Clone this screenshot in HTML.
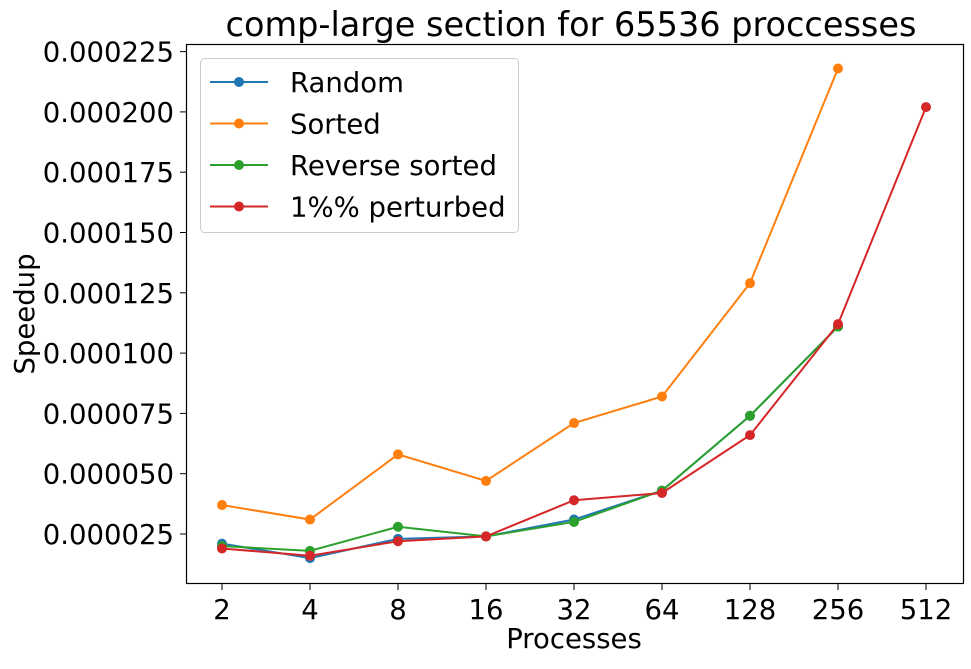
<!DOCTYPE html>
<html><head><meta charset="utf-8"><style>
body{margin:0;background:#fff;}
svg text{font-family:"DejaVu Sans","Liberation Sans",sans-serif;fill:#000;}
</style></head><body>
<svg id="chart" width="971" height="664">
<text x="571" y="36" font-size="33.5" text-anchor="middle">comp-large section for 65536 proccesses</text>
<g id="axes"></g>
<g id="series"></g>
<rect x="186.5" y="44.5" width="777" height="539" fill="none" stroke="#000" stroke-width="1.2"/>
<text x="574" y="648" font-size="27.5" text-anchor="middle">Processes</text>
<text x="0" y="0" font-size="27.5" text-anchor="middle" transform="translate(34,314) rotate(-90)">Speedup</text>
<g id="legend"></g>
</svg>
<script>
const categories=["2","4","8","16","32","64","128","256","512"];
const seriesNames=["Random","Sorted","Reverse sorted","1%% perturbed"];
const colors=["#1f77b4","#ff7f0e","#2ca02c","#d62728"];
const randomVals=[21,15,23,24,31,43,74,111,null];
const sortedVals=[37,31,58,47,71,82,129,218,null];
const reverseVals=[20,18,28,24,30,43,74,111,null];
const perturbedVals=[19,16,22,24,39,42,66,112,202];
const yTicks=[25,50,75,100,125,150,175,200,225];
const yTickLabels=["0.000025","0.000050","0.000075","0.000100","0.000125","0.000150","0.000175","0.000200","0.000225"];
const NS="http://www.w3.org/2000/svg";
function xs(i){return 222+i*88;}
function ys(v){return 534-(v-25)*60.3/25;}
function mk(t,a,p){const e=document.createElementNS(NS,t);for(const k in a)e.setAttribute(k,a[k]);p.appendChild(e);return e;}
const axes=document.getElementById('axes');
categories.forEach((c,i)=>{
  const l=mk('line',{x1:xs(i),x2:xs(i),y1:584,y2:590,stroke:'#000'},axes);
  
  
  const t=mk('text',{x:xs(i),y:619,'font-size':27.5,'text-anchor':'middle'},axes);
  t.textContent=c;
  
  
});
yTicks.forEach((v,i)=>{
  const l=mk('line',{x1:180,x2:186,y1:ys(v),y2:ys(v),stroke:'#000'},axes);
  
  
  const t=mk('text',{x:174,y:ys(v)+10,'font-size':27.5,'text-anchor':'end'},axes);
  t.textContent=yTickLabels[i];
  
  
});
const sg=document.getElementById('series');
[randomVals,sortedVals,reverseVals,perturbedVals].forEach((vals,s)=>{
  const pts=[];vals.forEach((v,i)=>{if(v!==null)pts.push([xs(i),ys(v)]);});
  const pl=mk('polyline',{points:pts.map(p=>p.join(',')).join(' '),fill:'none',stroke:colors[s],'stroke-width':2},sg);
  
  
  pts.forEach(p=>{
    const c=mk('circle',{cx:p[0],cy:p[1],r:5,fill:colors[s]},sg);
    
    
  });
});
const lg=document.getElementById('legend');
const box=mk('rect',{x:200.5,y:58.5,width:318,height:174,rx:4,fill:'#fff','fill-opacity':0.8,stroke:'#ccc'},lg);


seriesNames.forEach((n,i)=>{
  const y=82+i*41.5;
  const l=mk('line',{x1:210,x2:268,y1:y,y2:y,stroke:colors[i],'stroke-width':2},lg);
  
  
  const c=mk('circle',{cx:239,cy:y,r:5,fill:colors[i]},lg);
  
  
  const t=mk('text',{x:290,y:y+10,'font-size':27.5},lg);
  t.textContent=n;
  
  
});
</script>
</body></html>
